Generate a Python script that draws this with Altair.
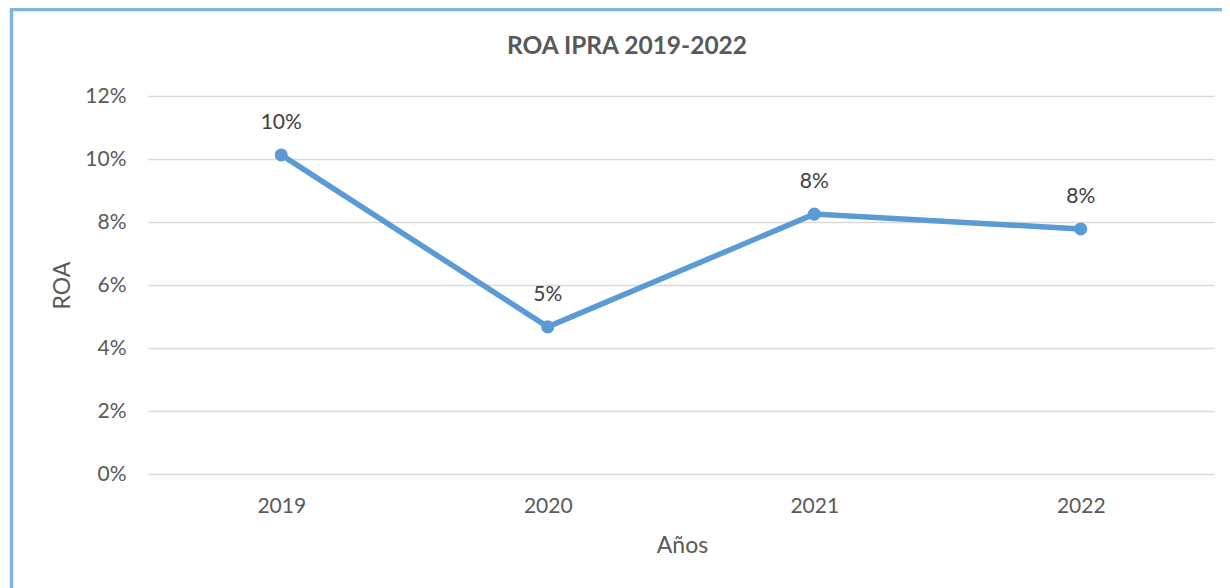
import altair as alt
import pandas as pd

years = ["2019", "2020", "2021", "2022"]
roa = [0.1013, 0.0467, 0.0825, 0.0778]
labels = ["10%", "5%", "8%", "8%"]
y_ticks = [0, 0.02, 0.04, 0.06, 0.08, 0.10, 0.12]
title_text = "ROA IPRA 2019-2022"
x_title = "Años"
y_title = "ROA"

df = pd.DataFrame({"year": years, "roa": roa, "label": labels})

FONT = "Lato"
TXT = "#595959"
LINE = "#5B9BD5"

x_enc = alt.X("year:N", scale=alt.Scale(type="point", padding=0.5),
              axis=alt.Axis(title=x_title, labelAngle=0, labelFontSize=21, labelColor=TXT,
                            labelFont=FONT, labelPadding=21, ticks=False, domain=False, grid=False,
                            titleFontSize=23, titleFont=FONT, titleColor=TXT, titleFontWeight="normal",
                            titleX=534, titleY=71, titleBaseline="middle", titleAnchor="start",
                            titleAlign="center"))
y_enc = alt.Y("roa:Q", scale=alt.Scale(domain=[0, 0.12], nice=False),
              axis=alt.Axis(title=y_title, values=y_ticks, format=".0%", labelFontSize=21,
                            labelColor=TXT, labelFont=FONT, labelPadding=22, ticks=False,
                            domain=False, grid=True, gridColor="#D9D9D9", gridWidth=1.5,
                            titleFontSize=23, titleFont=FONT, titleColor=TXT,
                            titleFontWeight="normal", titleX=-86, titleY=189,
                            titleBaseline="middle", titleAngle=270, titleAlign="center",
                            titleAnchor="start"))

base = alt.Chart(df)
line = base.mark_line(color=LINE, strokeWidth=5.5).encode(x=x_enc, y=y_enc)
pts = base.mark_point(color=LINE, filled=True, opacity=1, size=170).encode(x="year:N", y="roa:Q")
txt = base.mark_text(font=FONT, fontSize=21, color="#404040", dy=-32, baseline="middle").encode(
    x="year:N", y="roa:Q", text="label:N")

title = alt.Chart(pd.DataFrame({"t": [title_text]})).mark_text(
    font=FONT, fontSize=24.5, fontWeight="bold", color=TXT, baseline="middle", align="center"
).encode(x=alt.value(479), y=alt.value(-49), text="t:N")

border_left = alt.Chart(pd.DataFrame({"a": [0]})).mark_rule(color="#7FB5DE", strokeWidth=3.5).encode(
    x=alt.value(-136.5), y=alt.value(-88), y2=alt.value(520))
border_top = alt.Chart(pd.DataFrame({"a": [0]})).mark_rule(color="#7FB5DE", strokeWidth=3.5).encode(
    x=alt.value(-138), x2=alt.value(1090), y=alt.value(-86.5))

chart = alt.layer(border_left, border_top, title, line, pts, txt).properties(
    width=1066, height=378,
    padding={"left": 140, "top": 88, "right": 8, "bottom": 130},
    autosize=alt.AutoSizeParams(type="none"),
).configure_view(stroke=None)

chart.save("out.html", embed_options={"renderer": "svg", "actions": False})
